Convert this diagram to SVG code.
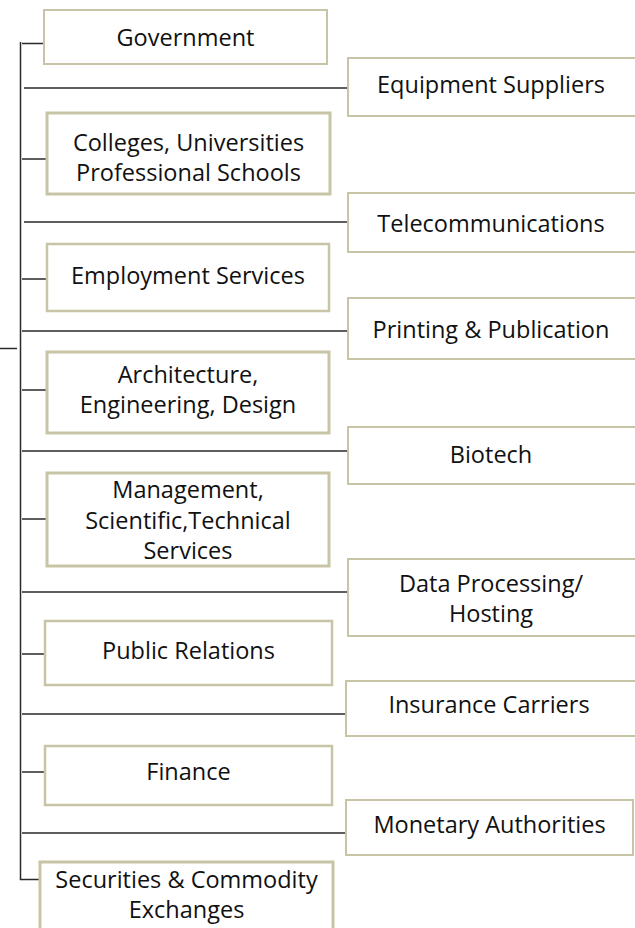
<svg xmlns="http://www.w3.org/2000/svg" width="635" height="928" viewBox="0 0 635 928">
  <style>
    .box{fill:#fff;stroke:#c8c4a6;stroke-width:2.5}
    .thin{stroke-width:2}
    .thick{stroke-width:3}
    .lbl{font-family:"Open Sans","DejaVu Sans",sans-serif;font-size:23.5px;fill:#111;text-anchor:middle}
    .ln{stroke:#2a2a2a;stroke-width:1.5;fill:none}
  </style>
  <rect width="635" height="928" fill="#fff"/>

  <!-- tree connectors -->
  <g id="connectors">
    <path class="ln" d="M0 348.5H17"/>
    <path class="ln" d="M20.5 42V879.5H42"/>
    <path class="ln" d="M22 43.5H44M22 159H47M22 279H47M22 390H47M22 519H47M22 654H45M22 772H45"/>
    <path class="ln" d="M24 88H348M24 222H348M22 331H348M22 451H348M22 592H348M22 714H346M22 833H346"/>
  </g>

  <!-- left column -->
  <g id="government">
    <rect class="box thin" x="44" y="10" width="283" height="54"/>
    <text class="lbl" x="185.5" y="45.5">Government</text>
  </g>
  <g id="colleges">
    <rect class="box thick" x="47" y="113" width="283" height="81"/>
    <text class="lbl" x="188.5" y="151">Colleges, Universities</text>
    <text class="lbl" x="188.5" y="181">Professional Schools</text>
  </g>
  <g id="employment">
    <rect class="box" x="47" y="244" width="282" height="67"/>
    <text class="lbl" x="188" y="284">Employment Services</text>
  </g>
  <g id="architecture">
    <rect class="box thick" x="47" y="352" width="282" height="81"/>
    <text class="lbl" x="188" y="383">Architecture,</text>
    <text class="lbl" x="188" y="413">Engineering, Design</text>
  </g>
  <g id="management">
    <rect class="box thick" x="47" y="473" width="282" height="93"/>
    <text class="lbl" x="188" y="498">Management,</text>
    <text class="lbl" x="188" y="529">Scientific,Technical</text>
    <text class="lbl" x="188" y="559">Services</text>
  </g>
  <g id="public-relations">
    <rect class="box" x="45" y="621" width="287" height="64"/>
    <text class="lbl" x="188.5" y="659">Public Relations</text>
  </g>
  <g id="finance">
    <rect class="box" x="45" y="746" width="287" height="59"/>
    <text class="lbl" x="188.5" y="780">Finance</text>
  </g>
  <g id="securities">
    <rect class="box thick" x="40" y="862" width="293" height="75"/>
    <text class="lbl" x="186.5" y="888">Securities &amp; Commodity</text>
    <text class="lbl" x="186.5" y="918">Exchanges</text>
  </g>

  <!-- right column -->
  <g id="equipment">
    <rect class="box thin" x="348" y="58" width="288" height="58"/>
    <text class="lbl" x="491" y="93">Equipment Suppliers</text>
  </g>
  <g id="telecom">
    <rect class="box thin" x="348" y="193" width="288" height="59"/>
    <text class="lbl" x="491" y="232">Telecommunications</text>
  </g>
  <g id="printing">
    <rect class="box thin" x="348" y="298" width="288" height="61"/>
    <text class="lbl" x="491" y="338">Printing &amp; Publication</text>
  </g>
  <g id="biotech">
    <rect class="box thin" x="348" y="427" width="288" height="57"/>
    <text class="lbl" x="491" y="463">Biotech</text>
  </g>
  <g id="data-processing">
    <rect class="box thin" x="348" y="559" width="288" height="77"/>
    <text class="lbl" x="491" y="592">Data Processing/</text>
    <text class="lbl" x="491" y="622">Hosting</text>
  </g>
  <g id="insurance">
    <rect class="box thin" x="346" y="681" width="290" height="55"/>
    <text class="lbl" x="489" y="713">Insurance Carriers</text>
  </g>
  <g id="monetary">
    <rect class="box thin" x="346" y="800" width="287" height="55"/>
    <text class="lbl" x="489.5" y="833">Monetary Authorities</text>
  </g>
</svg>
